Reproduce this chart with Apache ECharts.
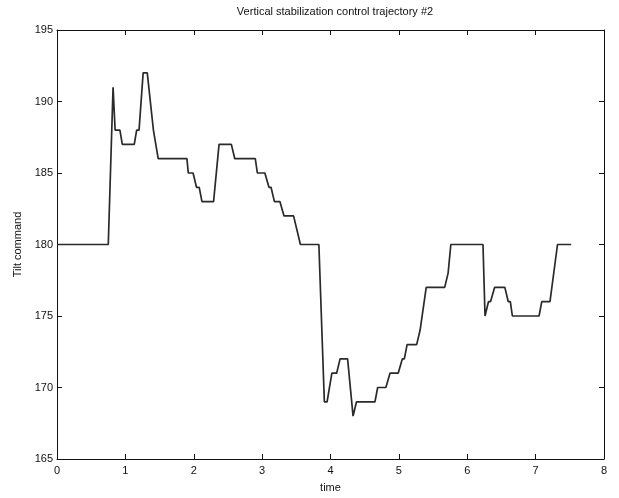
<!DOCTYPE html>
<html>
<head>
<meta charset="utf-8">
<script src="https://cdn.jsdelivr.net/npm/echarts@6/dist/echarts.min.js"></script>
<style>
  html, body { margin: 0; padding: 0; background: #fff; }
  #chart { width: 619px; height: 498px; }
</style>
</head>
<body>
<div id="chart"></div>
<script>
// Tilt command trajectory samples (time in seconds, command in degrees)
const timeValues = [
  0, 0.75, 0.82, 0.85, 0.92, 0.955, 1.13, 1.165, 1.20, 1.26, 1.32, 1.41, 1.48,
  1.90, 1.92, 1.99, 2.04, 2.08, 2.12, 2.29, 2.37, 2.55, 2.60,
  2.90, 2.93, 3.04, 3.10, 3.13, 3.18, 3.26, 3.32, 3.46, 3.56, 3.83,
  3.91, 3.95, 4.02, 4.09, 4.14, 4.25, 4.33, 4.38, 4.65, 4.69, 4.81, 4.87,
  4.99, 5.05, 5.08, 5.12, 5.26, 5.31, 5.40, 5.67, 5.72, 5.76,
  6.23, 6.26, 6.31, 6.34, 6.40, 6.55, 6.60, 6.63, 6.66, 7.05, 7.09, 7.21, 7.32, 7.52
];
const tiltValues = [
  180, 180, 191, 188, 188, 187, 187, 188, 188, 192, 192, 188, 186,
  186, 185, 185, 184, 184, 183, 183, 187, 187, 186,
  186, 185, 185, 184, 184, 183, 183, 182, 182, 180, 180,
  169, 169, 171, 171, 172, 172, 168, 169, 169, 170, 170, 171,
  171, 172, 172, 173, 173, 174, 177, 177, 178, 180,
  180, 175, 176, 176, 177, 177, 176, 176, 175, 175, 176, 176, 180, 180
];
const xTicks = [0, 1, 2, 3, 4, 5, 6, 7, 8];
const yTicks = [165, 170, 175, 180, 185, 190, 195];

const points = timeValues.map((t, i) => [t, tiltValues[i]]);

const font = 'Liberation Sans, Arial, Helvetica, sans-serif';
const axisColor = '#111';

// Plain value axis with inward ticks, used for all four sides of the box
function boxAxis(extra) {
  return Object.assign({
    type: 'value',
    axisLine: { show: true, onZero: false, lineStyle: { color: axisColor, width: 1 } },
    axisTick: { show: true, inside: true, length: 5, lineStyle: { color: axisColor } },
    splitLine: { show: false },
    axisLabel: { show: false }
  }, extra);
}

const chart = echarts.init(document.getElementById('chart'), null, { renderer: 'canvas' });
chart.setOption({
  animation: false,
  backgroundColor: '#ffffff',
  title: {
    text: 'Vertical stabilization control trajectory #2',
    left: 330, top: 1, textAlign: 'center',
    textStyle: { fontFamily: font, fontSize: 11, fontWeight: 'normal', color: '#111' }
  },
  grid: { left: 57, right: 15, top: 30, bottom: 36 },
  xAxis: [
    boxAxis({
      position: 'bottom', min: xTicks[0], max: xTicks[xTicks.length - 1], interval: 1,
      name: 'time', nameLocation: 'middle', nameGap: 23,
      nameTextStyle: { fontFamily: font, fontSize: 11, color: '#111' },
      axisLabel: { show: true, fontFamily: font, fontSize: 11, color: '#111', margin: 6 }
    }),
    boxAxis({ position: 'top', min: xTicks[0], max: xTicks[xTicks.length - 1], interval: 1 })
  ],
  yAxis: [
    boxAxis({
      position: 'left', min: yTicks[0], max: yTicks[yTicks.length - 1], interval: 5,
      name: 'Tilt command', nameLocation: 'middle', nameGap: 28, nameRotate: 90,
      nameTextStyle: { fontFamily: font, fontSize: 11, color: '#111' },
      axisLabel: { show: true, fontFamily: font, fontSize: 11, color: '#111', margin: 4 }
    }),
    boxAxis({ position: 'right', min: yTicks[0], max: yTicks[yTicks.length - 1], interval: 5 })
  ],
  series: [{
    type: 'line',
    data: points,
    xAxisIndex: 0,
    yAxisIndex: 0,
    showSymbol: false,
    lineStyle: { color: '#2a2a2a', width: 1.7 }
  }]
});
</script>
</body>
</html>
